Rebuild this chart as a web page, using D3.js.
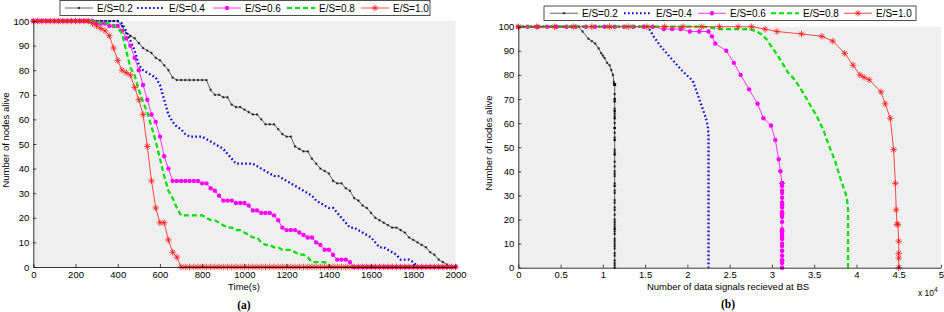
<!DOCTYPE html>
<html>
<head>
<meta charset="utf-8">
<script src="https://cdn.jsdelivr.net/npm/d3@7"></script>
<style>
body { margin: 0; background: #fff; }
svg { display: block; font-family: "Liberation Sans", Arial, sans-serif; }
</style>
</head>
<body>
<div id="chart"></div>
<script>
// ---- data ----
const seriesNames = ["E/S=0.2", "E/S=0.4", "E/S=0.6", "E/S=0.8", "E/S=1.0"];
const timeSec = d3.range(0, 2001, 20);   // sampling instants (s)
const timeTicks = [0, 200, 400, 600, 800, 1000, 1200, 1400, 1600, 1800, 2000];
const recvTicks = [0, 0.5, 1, 1.5, 2, 2.5, 3, 3.5, 4, 4.5, 5];
const aliveTicks = [0, 10, 20, 30, 40, 50, 60, 70, 80, 90, 100];

// nodes alive at each sampling instant
const alive02 = [100,100,100,100,100,100,100,100,100,100,100,100,100,100,100,100,100,100,100,100,100,
  98,95,94,93,91,89,88,87,85,84,82,80,77,76,
  76,76,76,76,76,76,76,
  72,70,70,69,69,66,65,65,64,63,62,62,60,58,58,58,56,54,53,53,49,48,47,47,44,42,40,39,38,35,
  34,34,32,31,28,27,25,24,22,20,19,18,17,16,16,15,14,12,11,10,9,8,6,5,3,2,1,0,0];
const alive04 = [100,100,100,100,100,100,100,100,100,100,100,100,100,100,100,100,100,100,100,100,100,
  99,96,92,88,82,80,79,78,77,74,68,62,59,57,
  56,54,53,53,53,53,52,51,50,49,48,46,44,42,42,42,42,42,41,40,39,38,37,37,36,35,34,33,32,31,
  30,29,27,26,25,24,24,22,20,18,16,16,15,14,13,12,10,8,8,7,6,5,3,3,3,2,0,
  0,0,0,0,0,0,0,0,0];
const alive06 = [100,100,100,100,100,100,100,100,100,100,100,100,100,100,100,
  99,99,99,98,98,98,96,93,90,85,80,74,68,62,59,53,45,40,35,
  35,35,35,35,35,35,
  34,34,32,31,29,27,27,27,26,26,26,25,23,23,22,22,22,21,19,16,15,15,15,14,13,12,12,10,9,7,
  7,5,3,3,3,2,0,
  0,0,0,0,0,0,0,0,0,0,0,0,0,0,0,0,0,0,0,0,0,0,0,0];
const alive08 = [100,100,100,100,100,100,100,100,100,100,100,100,100,100,100,100,
  99,99,99,98,97,95,88,81,78,72,67,63,57,51,44,37,31,28,24,21,
  21,21,21,21,21,
  20,19,19,18,17,16,16,15,15,14,13,12,12,10,9,9,8,8,7,7,7,6,5,5,4,2,2,2,2,0,
  0,0,0,0,0,0,0,0,0,0,0,0,0,0,0,0,0,0,0,0,0,0,0,0,0,0,0,0,0,0];
const alive10 = [100,100,100,100,100,100,100,100,100,100,100,100,100,
  100,99,98,97,96,94,89,84,80,79,78,73,68,62,49,35,24,18,18,11,6,4,0,
  0,0,0,0,0,0,0,0,0,0,0,0,0,0,0,0,0,0,0,0,0,0,0,0,0,0,0,0,0,0,0,0,0,0,0,
  0,0,0,0,0,0,0,0,0,0,0,0,0,0,0,0,0,0,0,0,0,0,0,0,0,0,0,0,0,0];

// data signals received at BS (x 10^4) at the same instants, up to the last node death
const recv02 = [0,0.04,0.07,0.11,0.14,0.18,0.21,0.25,0.28,0.32,0.36,0.39,0.43,0.46,0.5,0.53,0.57,0.6,0.64,0.67,0.71,
  0.76,0.83,0.87,0.91,0.95,0.98,1.0,1.02,1.05,1.08,1.1,1.12,1.13,1.14,
  1.14,1.14,1.14,1.14,1.14,1.14,1.14,1.14,1.14,1.14,1.14,1.14,1.14,1.14,1.14,1.14,1.14,1.14,1.14,1.14,
  1.14,1.14,1.14,1.14,1.14,1.14,1.14,1.14,1.14,1.14,1.14,1.14,1.14,1.14,1.14,1.14,1.14,1.14,1.14,1.14,
  1.14,1.14,1.14,1.14,1.14,1.14,1.14,1.14,1.14,1.14,1.14,1.14,1.14,1.14,1.14,1.14,1.14,1.14,1.14,1.14,
  1.14,1.14,1.14,1.14,1.14];
const recv04 = [0,0.08,0.15,0.23,0.3,0.38,0.46,0.53,0.61,0.68,0.76,0.84,0.91,0.99,1.06,1.14,1.22,1.29,1.37,1.44,1.52,
  1.55,1.6,1.68,1.78,1.93,1.99,2.02,2.05,2.07,2.1,2.16,2.22,2.24,2.245,2.25,
  2.25,2.25,2.25,2.25,2.25,2.25,2.25,2.25,2.25,2.25,2.25,2.25,2.25,2.25,2.25,2.25,2.25,2.25,2.25,2.25,
  2.25,2.25,2.25,2.25,2.25,2.25,2.25,2.25,2.25,2.25,2.25,2.25,2.25,2.25,2.25,2.25,2.25,2.25,2.25,2.25,
  2.25,2.25,2.25,2.25,2.25,2.25,2.25,2.25,2.25,2.25,2.25,2.25,2.25,2.25,2.25,2.25];
const recv06 = [0,0.11,0.23,0.34,0.45,0.57,0.68,0.8,0.91,1.02,1.14,1.25,1.36,1.48,1.59,
  1.72,1.82,1.92,2.03,2.14,2.25,2.29,2.33,2.46,2.55,2.63,2.73,2.83,2.9,2.99,3.04,3.08,3.1,3.12,
  3.12,3.12,3.12,3.12,3.12,3.12,3.12,3.12,3.12,3.12,3.12,3.12,3.12,3.12,3.12,3.12,3.12,3.12,3.12,3.12,
  3.12,3.12,3.12,3.12,3.12,3.12,3.12,3.12,3.12,3.12,3.12,3.12,3.12,3.12,3.12,3.12,3.12,3.12,3.12,3.12,
  3.12,3.12,3.12];
const recv08 = [0,0.15,0.29,0.44,0.59,0.73,0.88,1.03,1.17,1.32,1.47,1.61,1.76,1.91,2.05,2.2,
  2.38,2.56,2.74,2.82,2.87,2.93,3.07,3.19,3.27,3.38,3.46,3.53,3.61,3.67,3.75,3.81,3.87,3.89,3.9,3.9,
  3.9,3.9,3.9,3.9,3.9,3.9,3.9,3.9,3.9,3.9,3.9,3.9,3.9,3.9,3.9,3.9,3.9,3.9,3.9,3.9,
  3.9,3.9,3.9,3.9,3.9,3.9,3.9,3.9,3.9,3.9,3.9,3.9,3.9,3.9,3.9];
const recv10 = [0,0.22,0.43,0.65,0.87,1.08,1.3,1.52,1.73,1.95,2.17,2.38,2.6,
  2.76,2.92,3.06,3.35,3.59,3.72,3.86,3.96,4.04,4.09,4.15,4.29,4.34,4.4,4.44,4.46,4.47,4.48,4.49,4.5,4.5,4.5,4.5];

const aliveSeries = [alive02, alive04, alive06, alive08, alive10];
const recvSeries = [recv02, recv04, recv06, recv08, recv10];

// ---- styles ----
const styles = [
  { color: "#000000", width: 0.6, dash: null, marker: "star", size: 1.3, mw: 0.5 },
  { color: "#0000d8", width: 2.2, dash: "1.6,2.4", marker: null },
  { color: "#ff00ff", width: 0.8, dash: null, marker: "dot", size: 2.2 },
  { color: "#00e000", width: 2.2, dash: "5,3", marker: null },
  { color: "#ff1a1a", width: 0.8, dash: null, marker: "star", size: 3.3, mw: 0.8 }
];

const W = 944, H = 312;
const svg = d3.select("#chart").append("svg")
  .attr("width", W).attr("height", H)
  .attr("viewBox", [0, 0, W, H]);

function drawMarkers(g, pts, st) {
  if (st.marker === "dot") {
    g.selectAll("circle").data(pts).join("circle")
      .attr("cx", d => d[0]).attr("cy", d => d[1]).attr("r", st.size)
      .attr("fill", st.color);
  } else if (st.marker === "star") {
    const s = st.size, t = s * 0.7;
    g.selectAll("path").data(pts).join("path")
      .attr("d", d => `M${d[0] - s},${d[1]}h${2 * s}M${d[0]},${d[1] - s}v${2 * s}` +
        `M${d[0] - t},${d[1] - t}l${2 * t},${2 * t}M${d[0] - t},${d[1] + t}l${2 * t},${-2 * t}`)
      .attr("stroke", st.color).attr("stroke-width", st.mw).attr("fill", "none");
  }
}

function panel(cfg) {
  const x = d3.scaleLinear().domain(cfg.xDomain).range([cfg.left, cfg.right]);
  const y = d3.scaleLinear().domain([0, 100]).range([cfg.bottom, cfg.top]);
  const g = svg.append("g");

  g.append("rect")
    .attr("x", cfg.left).attr("y", cfg.top)
    .attr("width", cfg.right - cfg.left).attr("height", cfg.bottom - cfg.top)
    .attr("fill", "#efefef");

  const line = d3.line().x(d => d[0]).y(d => d[1]);

  cfg.series.forEach((pts, i) => {
    const st = styles[i];
    const px = pts.map(p => [x(p[0]), y(p[1])]);
    g.append("path")
      .attr("d", line(px))
      .attr("fill", "none")
      .attr("stroke", st.color)
      .attr("stroke-width", st.width)
      .attr("stroke-dasharray", st.dash)
      .attr("stroke-linecap", st.dash ? "butt" : "round");
    if (st.marker) drawMarkers(g.append("g"), px, st);
  });

  const xAxis = g.append("g")
    .attr("transform", `translate(0,${cfg.bottom})`)
    .call(d3.axisBottom(x).tickValues(cfg.xTicks).tickFormat(cfg.xFormat)
      .tickSizeInner(-3).tickSizeOuter(0).tickPadding(4));
  const yAxis = g.append("g")
    .attr("transform", `translate(${cfg.left},0)`)
    .call(d3.axisLeft(y).tickValues(aliveTicks).tickFormat(d3.format("d"))
      .tickSizeInner(-3).tickSizeOuter(0).tickPadding(4));
  [xAxis, yAxis].forEach(a => {
    a.selectAll("text").attr("font-size", 9.5).attr("fill", "#000")
      .attr("font-family", '"Liberation Sans", Arial, sans-serif');
    a.selectAll("line").attr("stroke", "#000").attr("stroke-width", 0.7);
    a.select(".domain").attr("stroke", "#000").attr("stroke-width", 0.8);
  });

  // titles
  g.append("text")
    .attr("x", cfg.xTitleX).attr("y", 290)
    .attr("text-anchor", "middle").attr("font-size", 9.5)
    .text(cfg.xTitle);
  g.append("text")
    .attr("transform", `translate(${cfg.yTitleX},${cfg.yTitleY}) rotate(-90)`)
    .attr("text-anchor", "middle").attr("font-size", 9.5)
    .text("Number of nodes alive");
  g.append("text")
    .attr("x", cfg.xTitleX).attr("y", cfg.capY)
    .attr("text-anchor", "middle")
    .attr("font-family", '"Liberation Serif", "Times New Roman", serif')
    .attr("font-weight", "bold").attr("font-size", 11.5)
    .text(cfg.caption);

  // legend
  const lg = g.append("g");
  lg.append("rect")
    .attr("x", cfg.legend.x0).attr("y", cfg.legend.y0)
    .attr("width", cfg.legend.x1 - cfg.legend.x0).attr("height", cfg.legend.h)
    .attr("fill", "#fff").attr("stroke", "#222").attr("stroke-width", 0.8);
  const cy = cfg.legend.y0 + cfg.legend.h / 2;
  seriesNames.forEach((name, i) => {
    const st = styles[i];
    const lx = cfg.legend.lines[i];
    lg.append("line")
      .attr("x1", lx).attr("x2", lx + 28).attr("y1", cy).attr("y2", cy)
      .attr("stroke", st.color).attr("stroke-width", st.width)
      .attr("stroke-dasharray", st.dash);
    if (st.marker) drawMarkers(lg.append("g"), [[lx + 14, cy]], st);
    lg.append("text")
      .attr("x", lx + 32).attr("y", cy).attr("dy", "0.35em")
      .attr("font-size", 10).text(name);
  });
  return { x, y, g };
}

// (a) nodes alive vs time
panel({
  xDomain: [0, 2000], left: 33.3, right: 455.5, top: 21, bottom: 267,
  xTicks: timeTicks, xFormat: d3.format("d"),
  series: aliveSeries.map(a => a.map((v, i) => [timeSec[i], v])),
  xTitle: "Time(s)", xTitleX: 244, yTitleX: 8.5, yTitleY: 140,
  caption: "(a)", capY: 309,
  legend: { x0: 60, x1: 430, y0: 0.5, h: 15, lines: [65, 137, 213, 287, 361] }
});

// (b) nodes alive vs data signals received
const pb = panel({
  xDomain: [0, 5], left: 518.3, right: 941, top: 26.7, bottom: 267.7,
  xTicks: recvTicks, xFormat: d3.format("~g"),
  series: recvSeries.map((r, s) => r.map((v, i) => [v, aliveSeries[s][i]])),
  xTitle: "Number of data signals recieved at BS", xTitleX: 728, yTitleX: 491.5, yTitleY: 143,
  caption: "(b)", capY: 308,
  legend: { x0: 544, x1: 916, y0: 6, h: 14.5, lines: [550, 624, 698, 771, 844] }
});

const expo = pb.g.append("text").attr("x", 918).attr("y", 296).attr("font-size", 8.5);
expo.append("tspan").text("x 10");
expo.append("tspan").attr("dy", -4).attr("font-size", 6.5).text("4");
</script>
</body>
</html>
